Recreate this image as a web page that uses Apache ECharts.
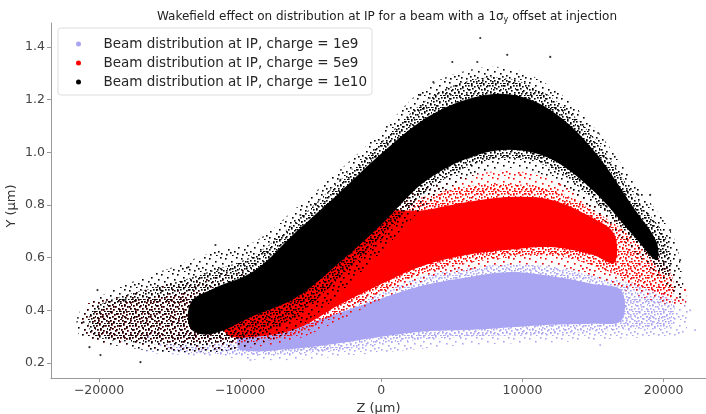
<!DOCTYPE html>
<html><head><meta charset="utf-8">
<script src="https://cdn.jsdelivr.net/npm/echarts@6/dist/echarts.min.js"></script>
<style>html,body{margin:0;padding:0;background:#fff}#c{width:706px;height:414px}</style>
</head><body><div id="c"></div>
<script>
// ---- data, z in µm, y in µm ----
const seriesNames = ['Beam distribution at IP, charge = 1e9','Beam distribution at IP, charge = 5e9','Beam distribution at IP, charge = 1e10'];
const xTicks = [-20000,-10000,0,10000,20000];
const yTicks = [0.2,0.4,0.6,0.8,1.0,1.2,1.4];

// charge = 1e9 (lavender)
const lavFrZ  = [-17000,-14000,-11000,-8000,-5000,-2000,1000,4000,7000,10000,13000,16000,19000,21500];
const lavFrHi = [0.32,0.34,0.36,0.38,0.41,0.45,0.50,0.56,0.59,0.60,0.58,0.55,0.51,0.45];
const lavFrLo = [0.25,0.23,0.22,0.21,0.215,0.23,0.245,0.26,0.27,0.275,0.28,0.29,0.30,0.32];
const lavMidZ  = [-15000,-12000,-9000,-6000,-3000,0,3000,6000,9000,12000,15000,18000,20500];
const lavMidHi = [0.31,0.33,0.35,0.38,0.42,0.47,0.53,0.56,0.575,0.565,0.53,0.50,0.45];
const lavMidLo = [0.25,0.235,0.23,0.235,0.25,0.27,0.29,0.30,0.305,0.31,0.32,0.33,0.34];
const lavCoreZ  = [-10000,-6000,-3000,0,3000,6000,9000,12000,15000,17000];
const lavCoreHi = [0.31,0.34,0.39,0.445,0.495,0.525,0.545,0.53,0.50,0.475];
const lavCoreLo = [0.25,0.255,0.275,0.30,0.32,0.325,0.335,0.345,0.35,0.36];
const lavDots = [[-15647,0.268],[-12815,0.241],[-9275,0.211],[21877,0.40],[22231,0.325],[15505,0.268],[-16500,0.30],[19000,0.37]];

// charge = 5e9 (red)
const redFrZ  = [-21000,-18000,-15000,-12000,-9000,-6000,-3000,0,3000,6000,9000,12000,15000,18000,20500,21500];
const redFrHi = [0.42,0.46,0.50,0.53,0.56,0.62,0.72,0.82,0.87,0.91,0.93,0.90,0.81,0.70,0.56,0.48];
const redFrLo = [0.30,0.27,0.25,0.25,0.26,0.29,0.36,0.44,0.51,0.55,0.57,0.57,0.53,0.46,0.42,0.42];
const redMidZ  = [-20000,-15000,-12000,-9000,-6000,-3000,0,3000,6000,9000,12000,15000,18000,20500];
const redMidHi = [0.40,0.46,0.48,0.52,0.59,0.69,0.79,0.83,0.87,0.88,0.86,0.78,0.67,0.54];
const redMidLo = [0.31,0.28,0.28,0.28,0.31,0.39,0.47,0.54,0.58,0.60,0.61,0.57,0.50,0.45];
const redCoreZ  = [-11000,-9000,-6000,-3000,0,3000,6000,9000,12000,15000,16500];
const redCoreHi = [0.42,0.47,0.56,0.66,0.77,0.78,0.81,0.83,0.82,0.75,0.69];
const redCoreLo = [0.31,0.30,0.33,0.42,0.50,0.57,0.61,0.63,0.64,0.61,0.58];
const redDots = [[9841,0.914],[12673,0.876],[16921,0.705],[19753,0.534],[20815,0.439],[21523,0.477],[4177,0.838]];

// charge = 1e10 (black)
const blackFrZ  = [-21300,-18000,-15000,-12000,-9000,-6000,-3000,0,3000,6000,9000,12000,15000,18000,20500,21300];
const blackFrHi = [0.40,0.50,0.56,0.62,0.66,0.79,0.93,1.08,1.24,1.31,1.32,1.25,1.10,0.88,0.70,0.55];
const blackFrLo = [0.30,0.26,0.24,0.24,0.27,0.33,0.46,0.62,0.79,0.90,0.94,0.90,0.78,0.62,0.48,0.45];
const blackMidZ  = [-20500,-18000,-15000,-12000,-9000,-6000,-3000,0,3000,6000,9000,12000,15000,18000,20300];
const blackMidHi = [0.40,0.46,0.50,0.55,0.61,0.74,0.89,1.04,1.19,1.27,1.28,1.21,1.06,0.83,0.66];
const blackMidLo = [0.31,0.28,0.27,0.27,0.30,0.38,0.52,0.67,0.84,0.94,0.98,0.94,0.82,0.66,0.53];
const blackCoreZ  = [-13500,-12000,-9000,-6000,-3000,0,3000,6000,9000,12000,15000,18000,19500];
const blackCoreHi = [0.43,0.48,0.55,0.70,0.845,0.995,1.125,1.20,1.22,1.16,1.01,0.78,0.66];
const blackCoreLo = [0.33,0.31,0.38,0.45,0.58,0.725,0.885,0.975,1.01,0.975,0.855,0.675,0.59];
const blackDots = [[7009,1.434],[8920,1.370],[11965,1.362],[6800,1.343],[5027,1.343],[3682,1.267],[2761,1.218],[15364,1.073],[19045,0.838],[18196,0.838],[20461,0.705],[21169,0.591],[21169,0.45],[-11753,0.648],[-13664,0.564],[-17063,0.203],[-19895,0.23],[-21098,0.355],[-20107,0.477],[-20674,0.26],[-5735,0.762],[-2903,0.895],[-15647,0.477],[-18125,0.44]];

// ---- styles ----
const COLORS = ['#aaa5f2','#ff0000','#000000'];
const sparseTile = {size:16, dots:[[1,2],[7,5],[12,1],[4,9],[10,11],[14,7],[2,14],[8,15],[13,13],[6,12]]};
const denseTile = {size:12, dots:[[0,1],[3,0],[6,2],[9,1],[11,4],[1,5],[4,4],[7,6],[10,8],[2,8],[5,9],[8,11],[0,11],[11,11],[3,11]]};
function pattern(color, tile){
  const c=document.createElement('canvas'); c.width=tile.size; c.height=tile.size;
  const g=c.getContext('2d'); g.fillStyle=color;
  tile.dots.forEach(p=>{g.fillRect(p[0],p[1],1.6,1.6);});
  return {image:c, repeat:'repeat'};
}
function band(name, zs, lo, hi, fill){
  return {type:'custom', name:name, silent:true, clip:true, data:[[0,0]],
    renderItem:function(params, api){
      const pts=[];
      for(let i=0;i<zs.length;i++) pts.push(api.coord([zs[i],hi[i]]));
      for(let i=zs.length-1;i>=0;i--) pts.push(api.coord([zs[i],lo[i]]));
      return {type:'polygon', shape:{points:pts, smooth:0.35}, style:{fill:fill}};
    }};
}
function dots(name, d, color){
  return {type:'scatter', name:name, data:d, symbolSize:2.2, itemStyle:{color:color}, silent:true};
}
const FONT='DejaVu Sans';
const series=[
  band(seriesNames[0], lavFrZ, lavFrLo, lavFrHi, pattern(COLORS[0], sparseTile)),
  band(seriesNames[0], lavMidZ, lavMidLo, lavMidHi, pattern(COLORS[0], denseTile)),
  band(seriesNames[0], lavCoreZ, lavCoreLo, lavCoreHi, COLORS[0]),
  dots(seriesNames[0], lavDots, COLORS[0]),
  band(seriesNames[1], redFrZ, redFrLo, redFrHi, pattern(COLORS[1], sparseTile)),
  band(seriesNames[1], redMidZ, redMidLo, redMidHi, pattern(COLORS[1], denseTile)),
  band(seriesNames[1], redCoreZ, redCoreLo, redCoreHi, COLORS[1]),
  dots(seriesNames[1], redDots, COLORS[1]),
  band(seriesNames[2], blackFrZ, blackFrLo, blackFrHi, pattern(COLORS[2], sparseTile)),
  band(seriesNames[2], blackMidZ, blackMidLo, blackMidHi, pattern(COLORS[2], denseTile)),
  band(seriesNames[2], blackCoreZ, blackCoreLo, blackCoreHi, COLORS[2]),
  dots(seriesNames[2], blackDots, COLORS[2])
];
const fmtX = v => (v<0 ? '\u2212'+Math.abs(v) : String(v));
const chart=echarts.init(document.getElementById('c'),null,{renderer:'canvas'});
chart.setOption({
  animation:false,
  textStyle:{fontFamily:FONT},
  title:{text:'Wakefield effect on distribution at IP for a beam with a 1σ{sub|y} offset at injection',
    left:382, top:4, textAlign:'center',
    textStyle:{fontFamily:FONT,fontSize:12,fontWeight:'normal',color:'#222',
      rich:{sub:{fontFamily:FONT,fontSize:8,color:'#222',padding:[7,0,0,0]}}}},
  legend:{left:58, top:28, orient:'vertical', itemGap:5, padding:[9,5,6,18],
    itemWidth:20, itemHeight:5, icon:'circle',
    backgroundColor:'rgba(255,255,255,0.85)', borderColor:'#ddd', borderWidth:1, borderRadius:3,
    textStyle:{fontFamily:FONT,fontSize:13.5,color:'#262626',padding:[0,0,0,10]},
    data:seriesNames.map((n,i)=>({name:n,itemStyle:{color:COLORS[i]}}))},
  graphic:[{type:'text', x:12, y:206, rotation:Math.PI/2, silent:true,
    style:{text:'Y (µm)', fontFamily:FONT, fontSize:13, fill:'#333', align:'center', verticalAlign:'middle'}}],
  grid:{left:51, right:0, top:23, bottom:36, containLabel:false, outerBoundsMode:'none'},
  xAxis:{type:'value', min:-23400, max:23000, name:'Z (µm)', nameLocation:'middle', nameGap:16,
    nameTextStyle:{fontFamily:FONT,fontSize:13,color:'#333'},
    axisLine:{onZero:false,lineStyle:{color:'#999'}}, splitLine:{show:false},
    axisTick:{customValues:xTicks, length:4, lineStyle:{color:'#999'}},
    axisLabel:{customValues:xTicks, fontFamily:FONT, fontSize:12.5, color:'#444', margin:6, formatter:fmtX}},
  yAxis:{type:'value', min:0.143, max:1.491,
    axisLine:{show:true,onZero:false,lineStyle:{color:'#999'}}, splitLine:{show:false},
    axisTick:{show:true,customValues:yTicks, length:4, lineStyle:{color:'#999'}},
    axisLabel:{customValues:yTicks, fontFamily:FONT, fontSize:12.5, color:'#444', margin:6,
      formatter:v=>v.toFixed(1)}},
  series:series
});
</script></body></html>
